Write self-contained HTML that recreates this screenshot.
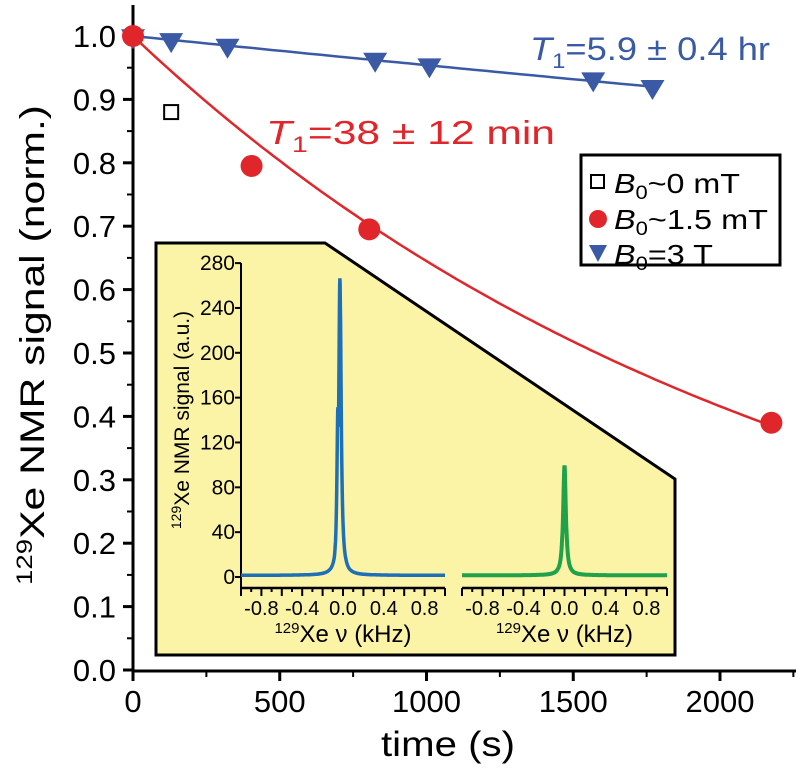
<!DOCTYPE html>
<html><head><meta charset="utf-8">
<style>
html,body{margin:0;padding:0;background:#fff;}
svg{display:block;font-family:"Liberation Sans",Arial,sans-serif;}
</style></head>
<body>
<svg id="chart" width="796" height="772" viewBox="0 0 796 772" xmlns="http://www.w3.org/2000/svg">
  <g id="main-axes"></g>
  <polygon points="156,243 325,243 675,479 675,655 156,655" fill="#fbf3a6" stroke="#000" stroke-width="3"/>
  <g id="inset"></g>
  <g id="series"></g>
  <text x="530" y="60" font-size="32" fill="#3a5aa6" textLength="240" lengthAdjust="spacingAndGlyphs"><tspan font-style="italic">T</tspan><tspan font-size="21" dy="8">1</tspan><tspan dy="-8">=5.9 ± 0.4 hr</tspan></text>
  <text x="266" y="144" font-size="33" fill="#e0262b" textLength="289" lengthAdjust="spacingAndGlyphs"><tspan font-style="italic">T</tspan><tspan font-size="22" dy="8">1</tspan><tspan dy="-8">=38 ± 12 min</tspan></text>
  <g>
    <rect x="581" y="155" width="199" height="110" fill="#fff" stroke="#000" stroke-width="3"/>
    <rect x="591" y="175" width="13" height="13" fill="none" stroke="#000" stroke-width="2"/>
    <text x="614" y="193" font-size="28" textLength="126" lengthAdjust="spacingAndGlyphs"><tspan font-style="italic">B</tspan><tspan font-size="19" dy="6">0</tspan><tspan dy="-6">~0 mT</tspan></text>
    <circle cx="598" cy="219" r="9" fill="#e0262b"/>
    <text x="614" y="229" font-size="28" textLength="154" lengthAdjust="spacingAndGlyphs"><tspan font-style="italic">B</tspan><tspan font-size="19" dy="6">0</tspan><tspan dy="-6">~1.5 mT</tspan></text>
    <polygon points="589,245 607,245 598,262" fill="#3a5aa6"/>
    <text x="614" y="264" font-size="28" textLength="99" lengthAdjust="spacingAndGlyphs"><tspan font-style="italic">B</tspan><tspan font-size="19" dy="6">0</tspan><tspan dy="-6">=3 T</tspan></text>
  </g>
</svg>
<script>
const NS="http://www.w3.org/2000/svg";
const xTicks=[0,500,1000,1500,2000];
const yTicks=[0.0,0.1,0.2,0.3,0.4,0.5,0.6,0.7,0.8,0.9,1.0];
const squareTimes=[130];
const squareValues=[0.88];
const circleTimes=[0,404,805,2175];
const circleValues=[1.0,0.795,0.695,0.39];
const triangleTimes=[0,130,322,825,1010,1568,1770];
const triangleValues=[0.998,0.992,0.983,0.961,0.952,0.930,0.918];
const redT1=2280;
const blueT1=21240;
const insetYTicks=[0,40,80,120,160,200,240,280];
const insetXTicks=[-0.8,-0.4,0.0,0.4,0.8];
const bluePeakCenter=-0.03, bluePeakHeight=265, bluePeakWidth=0.014;
const blueShoulderCenter=-0.05, blueShoulderHeight=150, blueShoulderWidth=0.012;
const greenPeakCenter=0.0, greenPeakHeight=98, greenPeakWidth=0.016;

const X=t=>133+t*0.2935;
const Y=v=>670-v*634;
function mk(tag,attrs,parent){const e=document.createElementNS(NS,tag);for(const k in attrs)e.setAttribute(k,attrs[k]);parent.appendChild(e);return e;}
const ax=document.getElementById('main-axes');
const ser=document.getElementById('series');
const ins=document.getElementById('inset');

let l=mk('line',{x1:133,y1:5,x2:133,y2:671,stroke:'#000','stroke-width':3},ax);


l=mk('line',{x1:131.5,y1:671,x2:796,y2:671,stroke:'#000','stroke-width':3},ax);


xTicks.forEach((t,i)=>{
  let tk=mk('line',{x1:X(t),y1:671,x2:X(t),y2:681,stroke:'#000','stroke-width':3},ax);
  
  
  let mn=mk('line',{x1:X(t+250),y1:671,x2:X(t+250),y2:677,stroke:'#000','stroke-width':2},ax);
  
  
  let tx=mk('text',{x:X(t),y:712,'font-size':31,'text-anchor':'middle'},ax);tx.textContent=String(t);
  
  
});
yTicks.forEach(v=>{
  let tk=mk('line',{x1:123,y1:Y(v),x2:133,y2:Y(v),stroke:'#000','stroke-width':3},ax);
  
  
  if(v<1){let mn=mk('line',{x1:127,y1:Y(v+0.05),x2:133,y2:Y(v+0.05),stroke:'#000','stroke-width':2},ax);
  
  }
  let tx=mk('text',{x:116,y:Y(v)+11,'font-size':31,'text-anchor':'end'},ax);tx.textContent=v.toFixed(1);
  
  
});
let xt=mk('text',{x:448,y:756,'font-size':35,'text-anchor':'middle',textLength:134,lengthAdjust:'spacingAndGlyphs'},ax);xt.textContent='time (s)';


let yt=mk('text',{x:0,y:0,'font-size':34,'text-anchor':'middle',textLength:480,lengthAdjust:'spacingAndGlyphs',transform:'translate(44,345) rotate(-90)'},ax);
yt.innerHTML='<tspan font-size="22" dy="-12">129</tspan><tspan dy="12">Xe NMR signal (norm.)</tspan>';



function fitPath(T1,tmax){let d='';for(let t=0;t<=tmax;t+=20){d+=(t?'L':'M')+X(t).toFixed(1)+','+Y(Math.exp(-t/T1)).toFixed(1);}return d;}
let rf=mk('path',{d:fitPath(redT1,2175),fill:'none',stroke:'#e0262b','stroke-width':2.5},ser);


let bf=mk('path',{d:fitPath(blueT1,1770),fill:'none',stroke:'#3a5aa6','stroke-width':2.5},ser);


triangleTimes.forEach((t,i)=>{const x=X(t),y=Y(triangleValues[i]);
  let p=mk('polygon',{points:`${x-12},${y-8} ${x+12},${y-8} ${x},${y+12}`,fill:'#3a5aa6'},ser);
  
  });
circleTimes.forEach((t,i)=>{
  let c=mk('circle',{cx:X(t),cy:Y(circleValues[i]),r:11,fill:'#e0262b'},ser);
  
  });
squareTimes.forEach((t,i)=>{
  let s=mk('rect',{x:X(t)-7,y:Y(squareValues[i])-7,width:14,height:14,fill:'#fff',stroke:'#000','stroke-width':2},ser);
  
  });

const IY=v=>577-v*1.121;
function panel(x0,x1,peaks,color,name,withY){
  const IX=f=>x0+(f+1)/2*(x1-x0);
  if(withY){
    let a=mk('line',{x1:x0,y1:263,x2:x0,y2:588,stroke:'#000','stroke-width':2},ins);
    
    
    insetYTicks.forEach(v=>{
      let tk=mk('line',{x1:x0-6,y1:IY(v),x2:x0,y2:IY(v),stroke:'#000','stroke-width':2},ins);
      
      
      let tx=mk('text',{x:x0-6,y:IY(v)+7,'font-size':21,'text-anchor':'end'},ins);tx.textContent=String(v);
      
      
    });
    let t=mk('text',{'font-size':21,'text-anchor':'middle',transform:`translate(${x0-52},420) rotate(-90)`},ins);
    t.innerHTML='<tspan font-size="14" dy="-8">129</tspan><tspan dy="8">Xe NMR signal (a.u.)</tspan>';
    
    
  }
  let a=mk('line',{x1:x0,y1:588,x2:x1,y2:588,stroke:'#000','stroke-width':2.5},ins);
  
  
  for(let k=-10;k<=10;k++){const f=k/10;
    let tk=mk('line',{x1:IX(f),y1:588,x2:IX(f),y2:k%2===0?596:592,stroke:'#000','stroke-width':2},ins);
    
    
  }
  insetXTicks.forEach(f=>{let tx=mk('text',{x:IX(f),y:615,'font-size':20,'text-anchor':'middle'},ins);tx.textContent=f.toFixed(1);
    
    });
  let lb=mk('text',{x:(x0+x1)/2,y:642,'font-size':24,'text-anchor':'middle'},ins);
  lb.innerHTML='<tspan font-size="15" dy="-9">129</tspan><tspan dy="9">Xe ν (kHz)</tspan>';
  
  
  let d='';for(let f=-1;f<=1.0001;f+=0.002){let v=0;peaks.forEach(p=>{v=Math.max(v,p[1]/(1+((f-p[0])/p[2])**2));});d+=(d?'L':'M')+IX(f).toFixed(1)+','+IY(v+1.5).toFixed(1);}
  let p=mk('path',{d:d,fill:'none',stroke:color,'stroke-width':color==='#1fa24a'?4:3.5},ins);
  
  
}
panel(241,445,[[bluePeakCenter,bluePeakHeight,bluePeakWidth],[blueShoulderCenter,blueShoulderHeight,blueShoulderWidth]],'#1d6fb8','blue-panel',true);
panel(462,667,[[greenPeakCenter,greenPeakHeight,greenPeakWidth]],'#1fa24a','green-panel',false);
</script>
</body></html>
